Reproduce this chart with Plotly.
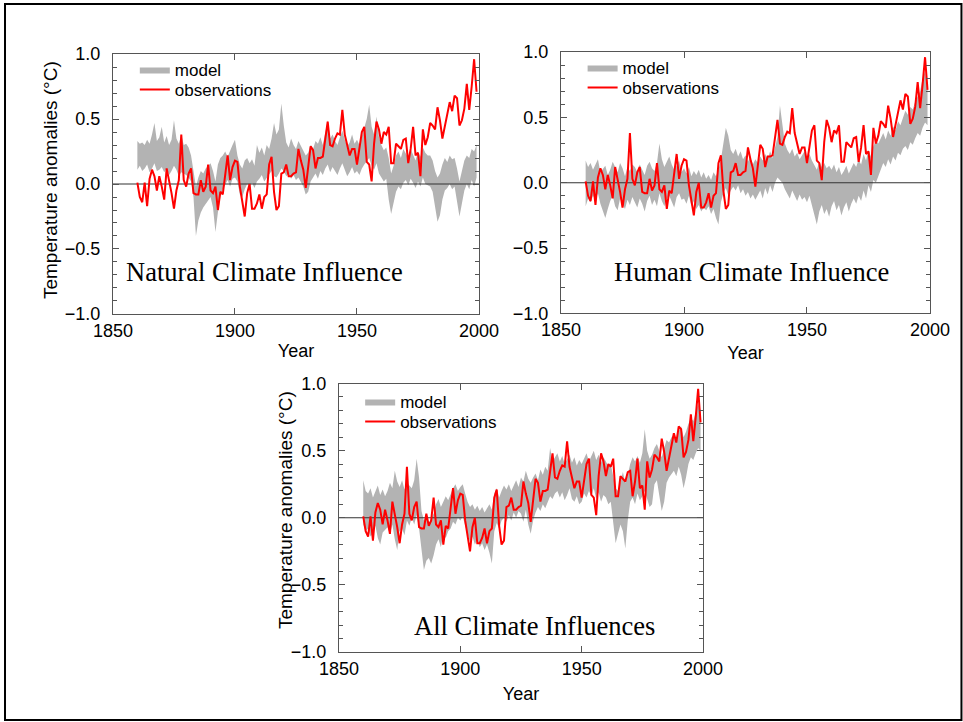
import plotly.graph_objects as go

# Annual global-mean temperature anomalies, 1860-1999 (°C)
YEARS = list(range(1860, 2000))

OBSERVED = [
    0.01, -0.10, -0.14, 0.01, -0.17, 0.04, 0.11, 0.06, -0.05, 0.06,
    -0.02, -0.12, 0.12, 0.03, -0.07, -0.19, -0.05, 0.03, 0.38, 0.03,
    -0.02, 0.08, 0.12, -0.07, -0.08, -0.08, 0.03, -0.06, -0.02, 0.15,
    -0.05, -0.07, -0.02, -0.20, -0.06, -0.08, 0.09, 0.22, 0.03, 0.13,
    0.18, 0.17, -0.02, -0.12, -0.25, -0.07, 0.00, -0.19, -0.19, -0.15,
    -0.08, -0.19, -0.10, -0.08, 0.15, 0.21, -0.06, -0.20, -0.17, 0.08,
    0.09, 0.15, 0.06, 0.06, 0.08, 0.09, 0.27, 0.18, 0.11, -0.03,
    0.13, 0.29, 0.26, 0.12, 0.20, 0.20, 0.21, 0.36, 0.48, 0.30,
    0.29, 0.35, 0.39, 0.38, 0.57, 0.38, 0.29, 0.22, 0.27, 0.27,
    0.15, 0.29, 0.40, 0.44, 0.17, 0.15, 0.02, 0.31, 0.48, 0.42,
    0.31, 0.40, 0.38, 0.44, 0.16, 0.16, 0.31, 0.29, 0.27, 0.34,
    0.35, 0.16, 0.27, 0.44, 0.22, 0.24, 0.06, 0.42, 0.30, 0.36,
    0.47, 0.45, 0.42, 0.59, 0.49, 0.35, 0.45, 0.56, 0.63, 0.56,
    0.68, 0.66, 0.45, 0.49, 0.58, 0.77, 0.57, 0.75, 0.96, 0.71,
]

# Model ensemble envelope, natural forcings only
NATURAL_LO = [
    0.11, 0.14, 0.10, 0.12, 0.15, 0.09, 0.12, 0.16, 0.10, 0.11,
    0.13, 0.09, 0.12, 0.07, 0.10, 0.14, 0.11, 0.06, 0.09, 0.08,
    0.07, 0.05, 0.02, -0.10, -0.40, -0.28, -0.22, -0.18, -0.15, -0.12,
    -0.10, -0.18, -0.37, -0.22, -0.10, -0.04, 0.00, 0.03, -0.02, 0.04,
    0.05, 0.02, -0.08, -0.10, -0.04, 0.00, -0.02, 0.01, -0.03, 0.02,
    0.04, 0.07, 0.02, 0.05, 0.08, 0.10, 0.06, 0.05, 0.08, 0.12,
    0.10, 0.06, 0.08, 0.04, 0.07, 0.03, 0.05, 0.02, -0.02, -0.08,
    -0.06, 0.02, 0.05, 0.08, 0.04, 0.10, 0.07, 0.12, 0.15, 0.09,
    0.13, 0.10, 0.07, 0.12, 0.16, 0.11, 0.06, 0.09, 0.13, 0.08,
    0.10, 0.07, 0.12, 0.15, 0.18, 0.20, 0.14, 0.11, 0.16, 0.08,
    0.05, 0.02, 0.04, -0.12, -0.23, -0.15, -0.06, -0.02, -0.04, 0.01,
    0.03, -0.01, 0.04, 0.01, -0.03, 0.02, -0.02, 0.05, 0.00, -0.01,
    -0.02, -0.06, -0.18, -0.29, -0.24, -0.12, -0.05, -0.03, 0.00, -0.04,
    -0.02, -0.12, -0.25, -0.15, -0.05, 0.00, -0.04, 0.03, -0.02, 0.05,
]
NATURAL_HI = [
    0.33, 0.31, 0.32, 0.30, 0.34, 0.31, 0.38, 0.47, 0.33, 0.36,
    0.44, 0.32, 0.37, 0.30, 0.34, 0.49, 0.35, 0.31, 0.38, 0.30,
    0.31, 0.28, 0.22, 0.10, -0.02, 0.05, 0.10, 0.08, 0.12, 0.14,
    0.16, 0.10, 0.02, 0.15, 0.20, 0.22, 0.25, 0.21, 0.26, 0.30,
    0.34, 0.22, 0.15, 0.12, 0.18, 0.20, 0.16, 0.19, 0.14, 0.30,
    0.24, 0.28, 0.22, 0.30, 0.27, 0.35, 0.47, 0.38, 0.42, 0.62,
    0.45, 0.32, 0.28, 0.35, 0.30, 0.27, 0.33, 0.29, 0.25, 0.22,
    0.24, 0.30, 0.27, 0.33, 0.31, 0.36, 0.30, 0.40, 0.49, 0.35,
    0.38, 0.33, 0.30, 0.36, 0.41, 0.34, 0.29, 0.32, 0.38, 0.31,
    0.34, 0.30, 0.37, 0.42, 0.50, 0.61, 0.44, 0.38, 0.52, 0.36,
    0.30, 0.26, 0.28, 0.20, 0.08, 0.14, 0.22, 0.25, 0.20, 0.27,
    0.24, 0.20, 0.27, 0.23, 0.18, 0.25, 0.21, 0.28, 0.24, 0.22,
    0.22, 0.18, 0.10, 0.05, 0.08, 0.15, 0.20, 0.17, 0.22, 0.19,
    0.20, 0.12, 0.02, 0.10, 0.18, 0.22, 0.20, 0.27, 0.25, 0.30,
]

# Model ensemble envelope, anthropogenic forcings only
HUMAN_LO = [
    -0.18, -0.12, -0.15, -0.10, -0.13, -0.08, -0.16, -0.22, -0.27, -0.20,
    -0.14, -0.10, -0.18, -0.21, -0.12, -0.16, -0.20, -0.13, -0.17, -0.11,
    -0.15, -0.19, -0.12, -0.16, -0.22, -0.14, -0.10, -0.17, -0.13, -0.18,
    -0.08, -0.14, -0.18, -0.12, -0.10, -0.15, -0.19, -0.11, -0.08, -0.13,
    -0.12, -0.16, -0.10, -0.18, -0.14, -0.20, -0.17, -0.22, -0.19, -0.21,
    -0.18, -0.24, -0.20, -0.27, -0.32, -0.15, -0.08, -0.04, -0.10, -0.06,
    -0.03, -0.06, -0.02, -0.08, -0.05, -0.10, -0.07, -0.12, -0.09, -0.13,
    -0.10, -0.06, -0.12, -0.04, -0.09, -0.02, -0.07, 0.00, 0.04, 0.02,
    0.00, -0.05, -0.08, -0.12, -0.06, -0.10, -0.14, -0.09, -0.13, -0.11,
    -0.15, -0.10, -0.18, -0.25, -0.32, -0.22, -0.17, -0.24, -0.20, -0.26,
    -0.18, -0.14, -0.21, -0.17, -0.25, -0.19, -0.15, -0.22, -0.16, -0.12,
    -0.16, -0.10, -0.14, -0.06, -0.12, -0.02, -0.07, 0.02, 0.00, 0.05,
    0.10, 0.15, 0.12, 0.18, 0.14, 0.20, 0.17, 0.23, 0.21, 0.26,
    0.28, 0.25, 0.31, 0.29, 0.34, 0.38, 0.36, 0.42, 0.46, 0.44,
]
HUMAN_HI = [
    0.17, 0.12, 0.15, 0.10, 0.14, 0.18, 0.08, 0.11, 0.13, 0.06,
    0.10, 0.16, 0.12, 0.08, 0.15, 0.11, 0.05, 0.12, 0.09, 0.14,
    0.12, 0.08, 0.14, 0.10, 0.06, 0.13, 0.16, 0.11, 0.09, 0.15,
    0.30, 0.18, 0.12, 0.16, 0.20, 0.14, 0.10, 0.13, 0.17, 0.08,
    0.11, 0.07, 0.12, 0.05, 0.09, 0.06, 0.10, 0.04, 0.08, 0.03,
    0.06, 0.02, 0.08, 0.05, 0.10, 0.18, 0.30, 0.42, 0.36, 0.25,
    0.22, 0.26, 0.20, 0.24, 0.18, 0.21, 0.16, 0.20, 0.14, 0.18,
    0.15, 0.20, 0.17, 0.22, 0.18, 0.24, 0.19, 0.28, 0.35, 0.59,
    0.46, 0.30, 0.25, 0.22, 0.26, 0.20, 0.23, 0.18, 0.21, 0.24,
    0.19, 0.22, 0.17, 0.14, 0.10, 0.16, 0.12, 0.15, 0.11, 0.13,
    0.10, 0.14, 0.08, 0.12, 0.06, 0.09, 0.13, 0.07, 0.11, 0.15,
    0.12, 0.18, 0.14, 0.22, 0.17, 0.25, 0.20, 0.28, 0.32, 0.30,
    0.34, 0.38, 0.33, 0.40, 0.36, 0.43, 0.40, 0.47, 0.44, 0.50,
    0.55, 0.52, 0.58, 0.56, 0.62, 0.66, 0.70, 0.80, 0.85, 0.72,
]

# Model ensemble envelope, natural + anthropogenic forcings
ALL_LO = [
    -0.05, -0.10, -0.08, -0.14, -0.12, -0.06, -0.15, -0.20, -0.11, -0.09,
    -0.07, -0.12, -0.05, -0.16, -0.24, -0.10, -0.08, -0.13, -0.02, -0.06,
    0.00, -0.05, 0.02, -0.08, -0.25, -0.39, -0.32, -0.30, -0.34, -0.28,
    -0.20, -0.16, -0.22, -0.12, -0.15, -0.10, -0.08, -0.03, -0.05, 0.00,
    -0.02, 0.01, -0.06, -0.12, -0.18, -0.14, -0.20, -0.16, -0.22, -0.19,
    -0.24, -0.20, -0.26, -0.34, -0.10, -0.04, -0.08, -0.02, 0.00, -0.03,
    0.02, -0.02, 0.04, 0.00, 0.05, 0.03, -0.03, 0.06, -0.05, -0.12,
    -0.02, 0.04, 0.08, 0.05, 0.10, 0.07, 0.12, 0.16, 0.14, 0.18,
    0.20, 0.15, 0.19, 0.13, 0.17, 0.22, 0.14, 0.12, 0.16, 0.10,
    0.12, 0.18, 0.15, 0.20, 0.16, 0.22, 0.14, 0.19, 0.12, 0.17,
    0.15, 0.10, 0.12, -0.05, -0.19, -0.12, -0.05, -0.10, -0.23, -0.02,
    0.12, 0.15, 0.10, 0.18, 0.13, 0.16, 0.20, 0.14, 0.08, 0.10,
    0.25, 0.28, 0.15, 0.05, 0.12, 0.26, 0.30, 0.33, 0.35, 0.31,
    0.38, 0.32, 0.22, 0.30, 0.40, 0.45, 0.43, 0.48, 0.52, 0.50,
]
ALL_HI = [
    0.28, 0.20, 0.18, 0.22, 0.15, 0.19, 0.24, 0.17, 0.21, 0.16,
    0.20, 0.26, 0.22, 0.35, 0.27, 0.23, 0.28, 0.21, 0.26, 0.24,
    0.22, 0.28, 0.44, 0.30, 0.05, -0.02, 0.02, -0.05, 0.00, 0.03,
    0.10, 0.14, 0.08, 0.12, 0.16, 0.13, 0.18, 0.22, 0.25, 0.20,
    0.23, 0.25, 0.18, 0.12, 0.08, 0.10, 0.06, 0.09, 0.05, 0.08,
    0.04, 0.07, 0.10, 0.06, 0.18, 0.22, 0.15, 0.20, 0.24, 0.21,
    0.25, 0.20, 0.24, 0.28, 0.23, 0.30, 0.27, 0.35, 0.29, 0.26,
    0.30, 0.33, 0.28, 0.36, 0.32, 0.38, 0.35, 0.52, 0.42, 0.45,
    0.48, 0.42, 0.46, 0.40, 0.44, 0.47, 0.41, 0.45, 0.39, 0.43,
    0.40, 0.44, 0.48, 0.42, 0.46, 0.50, 0.43, 0.47, 0.41, 0.45,
    0.42, 0.38, 0.40, 0.30, 0.22, 0.20, 0.28, 0.34, 0.26, 0.32,
    0.40, 0.45, 0.42, 0.46, 0.41, 0.48, 0.66, 0.50, 0.44, 0.47,
    0.52, 0.55, 0.50, 0.45, 0.52, 0.58, 0.56, 0.60, 0.62, 0.58,
    0.65, 0.68, 0.60, 0.64, 0.70, 0.74, 0.72, 0.78, 0.85, 0.80,
]

PANEL_TITLES = [
    "Natural Climate Influence",
    "Human Climate Influence",
    "All Climate Influences",
]
Y_TITLE = "Temperature anomalies (°C)"
X_TITLE = "Year"
X_TICKS = [1850, 1900, 1950, 2000]
Y_TICKS = [-1.0, -0.5, 0.0, 0.5, 1.0]
X_RANGE = [1850, 2000]
Y_RANGE = [-1.0, 1.0]

SANS = "Liberation Sans, Arial, Helvetica, sans-serif"
SERIF = "Liberation Serif, Times New Roman, serif"
AXIS_GREY = "#555555"
BAND_GREY = "#b3b3b3"
OBS_RED = "#ff0000"

bands = [(NATURAL_LO, NATURAL_HI), (HUMAN_LO, HUMAN_HI), (ALL_LO, ALL_HI)]

# per-panel placement (paper units unless noted)
panels = [
    dict(xdom=[0.1173, 0.4974], ydom=[0.5651, 0.9252], lgx=0.140, lgy=0.9030,
         tx=0.415, ty=0.16, xstand=4, ytitle=(0.053, 0.7507)),
    dict(xdom=[0.5826, 0.9657], ydom=[0.5658, 0.9280], lgx=0.605, lgy=0.9058,
         tx=0.515, ty=0.16, xstand=7, ytitle=None),
    dict(xdom=[0.3520, 0.7300], ydom=[0.0970, 0.4688], lgx=0.374, lgy=0.4432,
         tx=0.538, ty=0.097, xstand=9, ytitle=(0.296, 0.2936)),
]
ROW_GAP = 20 / 722  # vertical spacing between legend rows

fig = go.Figure()
annotations = []
legend_layouts = {}
legend_count = 0


def legend_box(x, y):
    return dict(
        x=x, y=y, xanchor="left", yanchor="middle",
        bgcolor="rgba(0,0,0,0)", borderwidth=0,
        font=dict(family=SANS, size=17, color="black"),
        itemwidth=30, traceorder="normal",
    )


for i, ((lo, hi), title, geo) in enumerate(zip(bands, PANEL_TITLES, panels)):
    n = "" if i == 0 else str(i + 1)
    xa, ya = "x" + n, "y" + n

    # one single-entry legend per row so the two rows can sit close together
    legend_count += 1
    lg_model = "legend" if legend_count == 1 else "legend%d" % legend_count
    legend_layouts[lg_model] = legend_box(geo["lgx"], geo["lgy"])
    legend_count += 1
    lg_obs = "legend%d" % legend_count
    legend_layouts[lg_obs] = legend_box(geo["lgx"], geo["lgy"] - ROW_GAP)

    fig.add_trace(go.Scatter(
        x=YEARS, y=lo, xaxis=xa, yaxis=ya, mode="lines",
        line=dict(width=0, color=BAND_GREY), showlegend=False,
        hoverinfo="skip", legend=lg_model,
    ))
    fig.add_trace(go.Scatter(
        x=YEARS, y=hi, xaxis=xa, yaxis=ya, mode="lines",
        line=dict(width=0, color=BAND_GREY), fill="tonexty",
        fillcolor=BAND_GREY, name="model", legend=lg_model,
    ))
    # zero reference line across the full year range
    fig.add_trace(go.Scatter(
        x=X_RANGE, y=[0, 0], xaxis=xa, yaxis=ya, mode="lines",
        line=dict(width=1.2, color="#333333"), showlegend=False,
        hoverinfo="skip", legend=lg_model,
    ))
    fig.add_trace(go.Scatter(
        x=YEARS, y=OBSERVED, xaxis=xa, yaxis=ya, mode="lines",
        line=dict(width=2, color=OBS_RED), name="observations", legend=lg_obs,
    ))

    fig.layout["xaxis" + n] = dict(
        domain=geo["xdom"], anchor=ya, range=X_RANGE, tickvals=X_TICKS,
        ticks="inside", ticklen=6, tickcolor=AXIS_GREY, tickwidth=1,
        showline=True, linecolor=AXIS_GREY, linewidth=1.2, mirror="ticks",
        showgrid=False, zeroline=False, ticklabelstandoff=0, automargin=False,
        tickfont=dict(family=SANS, size=18, color="black"),
        title=dict(text=X_TITLE, font=dict(family=SANS, size=18, color="black"),
                   standoff=geo["xstand"]),
    )
    fig.layout["yaxis" + n] = dict(
        domain=geo["ydom"], anchor=xa, range=Y_RANGE, tickvals=Y_TICKS,
        tickformat=".1f", ticks="inside", ticklen=6, tickcolor=AXIS_GREY,
        tickwidth=1, showline=True, linecolor=AXIS_GREY, linewidth=1.2,
        mirror="ticks", showgrid=False, zeroline=False, ticklabelstandoff=8,
        automargin=False,
        minor=dict(dtick=0.1, ticks="inside", ticklen=4, tickcolor=AXIS_GREY,
                   showgrid=False),
        tickfont=dict(family=SANS, size=18, color="black"),
    )
    if geo["ytitle"]:
        yx, yy = geo["ytitle"]
        annotations.append(dict(
            text=Y_TITLE, xref="paper", yref="paper", x=yx, y=yy,
            xanchor="center", yanchor="middle", textangle=-90,
            showarrow=False, font=dict(family=SANS, size=19, color="black"),
        ))
    annotations.append(dict(
        text=title, xref=xa + " domain", yref=ya + " domain",
        x=geo["tx"], y=geo["ty"], xanchor="center", yanchor="middle",
        showarrow=False, font=dict(family=SERIF, size=26.5, color="black"),
    ))

fig.update_layout(
    width=963, height=722,
    margin=dict(l=0, r=0, t=0, b=0, autoexpand=False),
    paper_bgcolor="white", plot_bgcolor="white",
    annotations=annotations,
    shapes=[dict(type="rect", xref="paper", yref="paper",
                 x0=0.0052, x1=0.9984, y0=0.0028, y1=0.9945,
                 line=dict(color="black", width=2), fillcolor="rgba(0,0,0,0)")],
    showlegend=True,
    **legend_layouts,
)

fig.write_html("out.html")
